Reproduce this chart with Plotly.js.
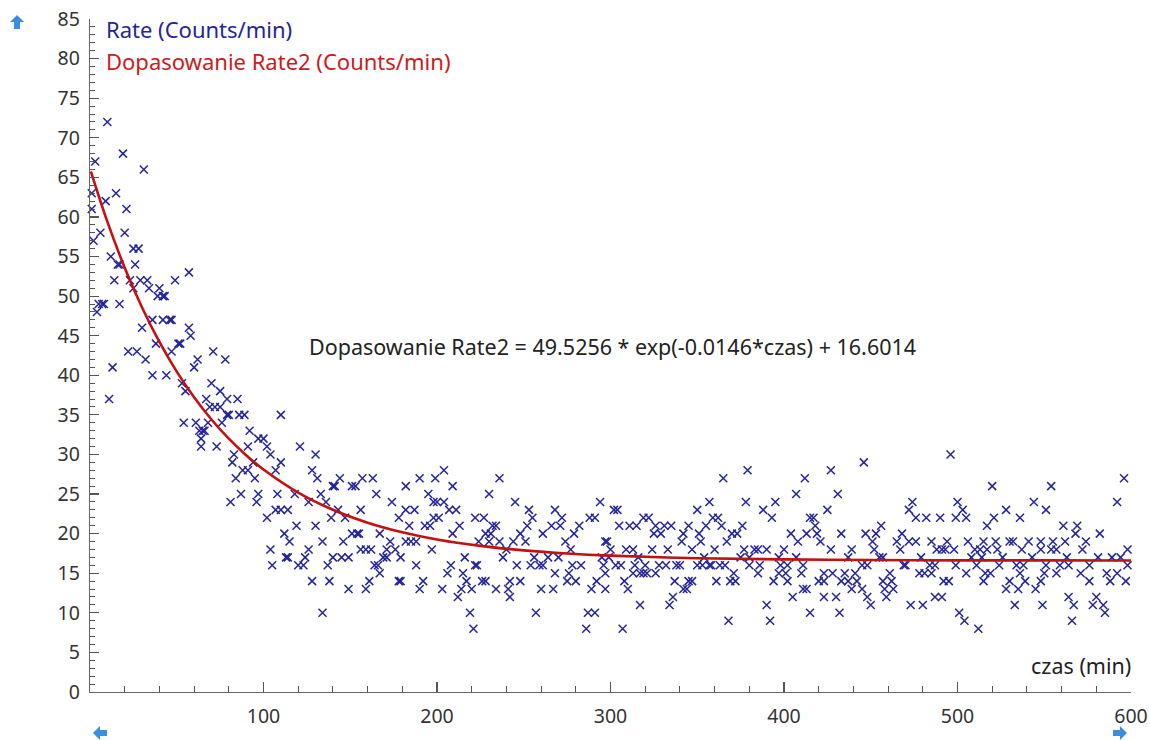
<!DOCTYPE html>
<html>
<head>
<meta charset="utf-8">
<script src="https://cdn.plot.ly/plotly-3.0.1.min.js"></script>
<style>html,body{margin:0;padding:0;background:#fff;}#chart{width:1150px;height:740px;}</style>
</head>
<body>
<div id="chart"></div>
<script>
// Measured points: time (min)
var rateTime = [
1,1,2,3,4,5,6,7,8,9,
10,11,12,13,14,15,16,17,17,19,
20,21,22,23,25,25,26,27,28,29,
30,31,32,33,34,36,36,38,39,40,
42,42,43,44,46,47,47,49,51,52,
53,54,55,57,57,58,60,61,62,63,
64,64,65,66,67,68,69,70,71,72,
73,75,75,76,78,79,79,80,81,82,
83,84,85,86,87,88,89,91,91,92,
94,95,96,97,97,100,102,102,104,104,
105,107,107,108,110,110,110,112,113,114,
114,115,118,119,120,121,123,124,126,126,
128,128,130,130,131,133,134,134,136,137,
138,139,140,140,141,143,144,145,146,147,
149,149,151,151,153,154,155,156,156,157,
159,159,161,162,163,164,165,166,167,167,
169,171,171,173,174,176,178,178,179,179,
182,182,182,184,185,187,188,188,190,190,
192,193,195,196,197,198,198,199,200,201,
203,204,204,206,207,208,209,209,211,212,
213,214,215,216,217,219,220,221,222,222,
223,224,226,227,228,228,230,230,231,232,
234,234,236,236,238,240,241,242,242,244,
245,246,248,248,251,252,253,254,255,256,
257,259,260,261,261,264,266,267,268,268,
270,271,272,274,275,276,277,278,279,280,
282,283,286,287,288,289,291,291,292,294,
295,296,297,297,297,298,299,300,302,303,
304,305,306,307,308,309,310,311,313,313,
314,315,316,317,317,319,319,320,321,322,
324,325,326,326,328,329,331,332,333,334,
335,336,337,338,340,341,342,342,344,345,
345,347,347,350,350,351,352,353,354,355,
357,357,358,359,360,361,362,363,364,365,
366,367,368,369,370,371,372,373,375,376,
377,378,379,380,380,383,385,385,386,388,
390,390,392,393,394,395,397,397,398,400,
401,402,402,404,405,407,407,408,410,411,
411,412,413,413,415,415,417,418,419,420,
421,423,423,423,425,427,427,428,430,431,
432,433,433,435,437,437,439,439,441,442,
445,445,446,447,448,448,450,451,452,453,
455,456,457,457,458,459,461,462,463,465,
467,468,469,470,472,472,473,474,476,476,
478,479,480,481,482,484,485,485,487,487,
488,490,491,491,492,493,494,495,496,498,
499,499,500,501,503,504,505,505,506,508,
510,511,512,513,514,515,515,516,517,517,
519,520,521,522,523,524,526,528,528,530,
530,532,533,534,535,536,536,537,538,539,
541,543,544,545,548,548,548,549,550,551,
551,554,554,555,557,557,559,561,562,563,
564,564,566,567,568,569,571,572,574,576,
576,578,580,581,582,584,585,586,588,589,
592,592,594,596,597,598,598
];
// Measured points: rate (Counts/min)
var rateCounts = [
63,61,57,67,48,49,58,49,49,62,
72,37,55,41,52,63,54,54,49,68,
58,61,43,52,51,56,54,43,56,52,
46,66,42,52,51,47,40,44,50,51,
50,47,50,40,47,47,43,52,44,44,
39,34,38,53,46,45,41,34,42,33,
31,32,33,33,37,34,36,39,43,36,
31,36,38,34,42,37,35,35,24,29,
30,27,37,35,25,28,35,31,28,33,
29,27,24,32,25,32,31,22,30,18,
16,28,23,25,35,29,23,20,17,23,
17,19,25,21,16,31,16,17,24,18,
14,28,21,30,27,25,19,10,24,16,
14,22,17,26,26,23,27,17,19,22,
17,13,26,20,26,20,20,23,18,27,
18,13,14,18,27,16,25,16,20,15,
17,18,17,19,24,18,22,14,17,14,
26,23,19,21,19,23,19,16,27,13,
14,21,25,21,18,24,22,27,24,22,
13,28,24,15,23,16,26,20,23,12,
21,13,15,17,14,10,13,8,22,16,
16,19,14,22,14,20,25,19,20,21,
21,13,27,19,17,18,13,12,14,19,
24,16,20,14,19,21,23,16,22,17,
10,16,13,16,20,17,21,13,23,15,
17,21,22,19,14,15,18,16,20,14,
21,16,8,10,22,13,10,22,14,24,
17,16,15,19,13,19,17,18,23,16,
23,21,16,8,14,18,13,21,18,15,
16,21,17,11,15,22,15,16,15,22,
18,20,21,15,16,20,21,16,18,11,
21,12,14,16,16,19,20,13,13,21,
14,18,14,23,16,20,19,16,17,21,
24,16,16,22,18,14,22,16,21,27,
16,19,9,14,20,15,14,20,17,21,
18,24,28,17,16,18,18,15,16,23,
18,11,9,22,14,24,15,17,16,18,
15,16,14,20,12,25,17,19,15,16,
13,27,20,13,22,10,22,21,20,14,
19,15,14,12,23,28,18,15,12,25,
10,20,14,15,17,14,18,13,15,14,
16,13,29,20,12,16,11,19,18,20,
17,21,17,14,13,12,15,14,13,19,
18,20,16,16,19,23,11,24,19,22,
15,17,11,15,22,16,15,19,16,12,
18,22,12,18,14,18,19,14,30,18,
22,16,24,10,23,9,15,22,19,17,
18,16,8,18,17,19,14,15,21,18,
15,26,22,19,18,16,17,23,13,19,
14,19,11,16,13,15,22,18,16,14,
19,17,24,13,19,14,18,11,15,16,
23,26,18,19,18,15,16,21,19,17,
12,16,9,11,20,21,15,18,19,16,
14,11,12,17,20,11,10,15,14,17,
24,15,17,27,14,16,18
];
// Fit curve
var fitTime = [0.5,10,20,30,40,50,60,70,80,90,100,120,140,160,180,200,225,250,275,300,350,400,450,500,550,600];
var fitRate = [65.75,59.40,53.59,48.56,44.22,40.47,37.23,34.42,32.00,29.91,28.10,25.19,23.02,21.39,20.18,19.27,18.46,17.89,17.49,17.22,16.90,16.75,16.67,16.63,16.62,16.61];

var xTickVals = [100,200,300,400,500,600];
var seriesName = "Rate (Counts/min)";
var fitName = "Dopasowanie Rate2 (Counts/min)";
var fitText = "Dopasowanie Rate2 = 49.5256 * exp(-0.0146*czas) + 16.6014";
var xTitle = "czas (min)";

var FONT = "'Noto Sans', 'Open Sans', sans-serif";
var BLUE = "#25259a";
var RED = "#cc1b1b";
var ARROW = "#3a8ee2";

var traces = [
  {
    x: rateTime, y: rateCounts, type: "scatter", mode: "markers", name: seriesName,
    cliponaxis: false,
    marker: {symbol: "x-thin", size: 8, color: BLUE, line: {color: BLUE, width: 1.5}},
    hoverinfo: "x+y"
  },
  {
    x: fitTime, y: fitRate, type: "scatter", mode: "lines", name: fitName,
    line: {color: "#c41010", width: 2.6, shape: "spline", smoothing: 1.0},
    hoverinfo: "x+y"
  }
];

var layout = {
  width: 1150, height: 740,
  margin: {l: 90, r: 19, t: 19, b: 48, pad: 0},
  paper_bgcolor: "#ffffff", plot_bgcolor: "#ffffff",
  showlegend: false,
  font: {family: FONT, size: 18, color: "#333"},
  xaxis: {
    range: [0, 600], tickmode: "array", tickvals: xTickVals,
    ticks: "inside", ticklen: 10, tickwidth: 1.2, tickcolor: "#555",
    minor: {dtick: 20, ticks: "inside", ticklen: 6, tickwidth: 1, tickcolor: "#555"},
    showline: true, linecolor: "#666", linewidth: 1.2,
    showgrid: false, zeroline: false,
    tickfont: {family: FONT, size: 19.5, color: "#333"},
    ticklabelstandoff: 6
  },
  yaxis: {
    range: [0, 85], tick0: 0, dtick: 5,
    ticks: "inside", ticklen: 9, tickwidth: 1.2, tickcolor: "#555",
    minor: {dtick: 1, ticks: "inside", ticklen: 5, tickwidth: 1, tickcolor: "#555"},
    showline: true, linecolor: "#666", linewidth: 1.2,
    showgrid: false, zeroline: false,
    tickfont: {family: FONT, size: 19.5, color: "#333"},
    ticklabelstandoff: 5
  },
  annotations: [
    {xref: "paper", yref: "paper", x: 0.0135, y: 0.985, xanchor: "left", yanchor: "middle",
     text: seriesName, showarrow: false, font: {family: FONT, size: 22, color: BLUE}},
    {xref: "paper", yref: "paper", x: 0.0135, y: 0.9376, xanchor: "left", yanchor: "middle",
     text: fitName, showarrow: false, font: {family: FONT, size: 22, color: RED}},
    {xref: "x", yref: "y", x: 301, y: 43.7, xanchor: "center", yanchor: "middle",
     text: fitText, showarrow: false, font: {family: FONT, size: 21.5, color: "#222"}},
    {xref: "paper", yref: "paper", x: 1.002, y: 0.04, xanchor: "right", yanchor: "middle",
     text: xTitle, showarrow: false, font: {family: FONT, size: 21.5, color: "#222"}}
  ],
  shapes: [
    {type: "path", xref: "paper", yref: "paper", xsizemode: "pixel", ysizemode: "pixel",
     xanchor: -0.0701, yanchor: 0.9955,
     path: "M -7,0 L 0,7 L 7,0 L 3,0 L 3,-7 L -3,-7 L -3,0 Z",
     fillcolor: ARROW, line: {width: 0}},
    {type: "path", xref: "paper", yref: "paper", xsizemode: "pixel", ysizemode: "pixel",
     xanchor: 0.0096, yanchor: -0.061,
     path: "M -7,0 L 0,7 L 0,3 L 7,3 L 7,-3 L 0,-3 L 0,-7 Z",
     fillcolor: ARROW, line: {width: 0}},
    {type: "path", xref: "paper", yref: "paper", xsizemode: "pixel", ysizemode: "pixel",
     xanchor: 0.9894, yanchor: -0.061,
     path: "M 7,0 L 0,7 L 0,3 L -7,3 L -7,-3 L 0,-3 L 0,-7 Z",
     fillcolor: ARROW, line: {width: 0}}
  ]
};

Plotly.newPlot("chart", traces, layout, {staticPlot: true, displayModeBar: false});
</script>
</body>
</html>
